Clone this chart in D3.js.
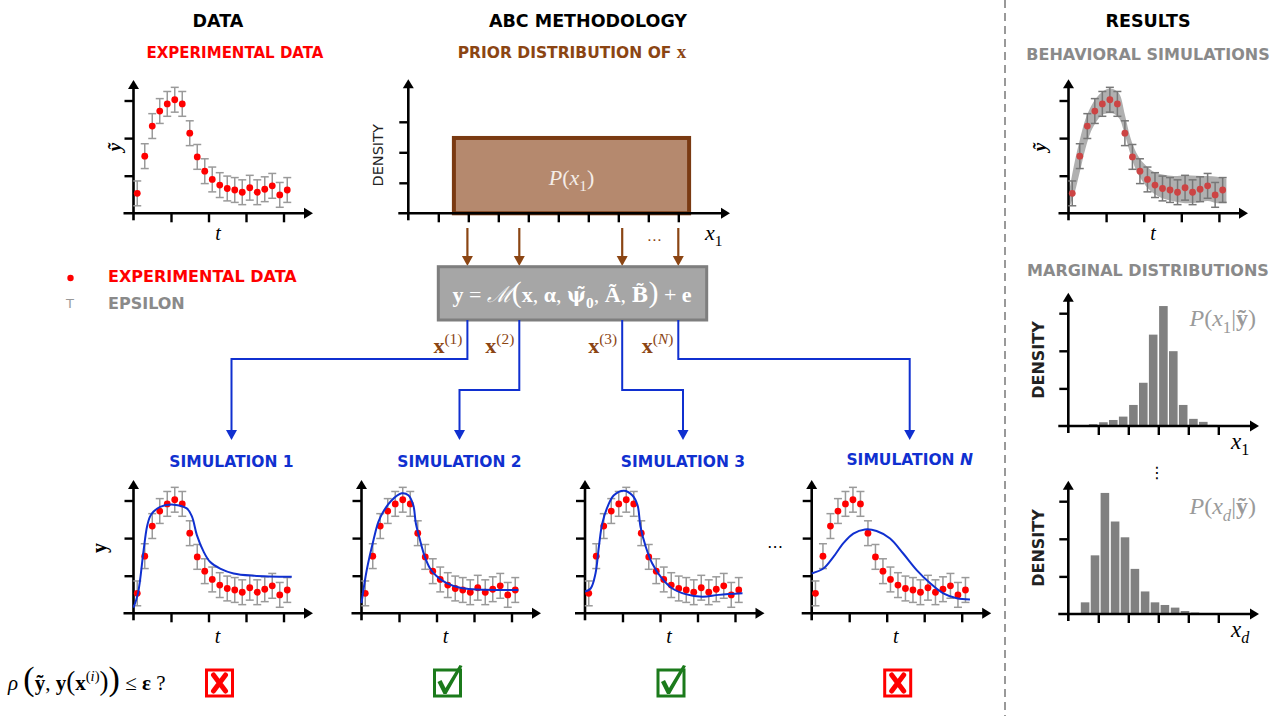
<!DOCTYPE html>
<html><head><meta charset="utf-8">
<script src="https://cdn.jsdelivr.net/npm/d3@7"></script>
<style>html,body{margin:0;padding:0;background:#fff;} svg{display:block}</style>
</head><body>
<svg id="chart" width="1279" height="716"></svg>
<script>
// ---------------- DATA ----------------
const timePoints = [0.1,0.3,0.5,0.7,0.9,1.1,1.3,1.5,1.7,1.9,2.1,2.3,2.5,2.7,2.9,3.1,3.3,3.5,3.7,3.9,4.1];
const experimentalData = [0.53,1.52,2.32,2.72,2.91,3.02,2.91,2.13,1.50,1.12,0.90,0.75,0.66,0.62,0.56,0.68,0.56,0.64,0.73,0.49,0.62];
const epsilon = 0.33;

const sim1Curve = [[0,0.15],[0.12,0.53],[0.27,1.68],[0.36,2.3],[0.44,2.57],[0.53,2.7],[0.71,2.83],[1.07,2.89],[1.42,2.79],[1.56,2.57],[1.69,2.08],[1.87,1.64],[2.04,1.37],[2.31,1.19],[2.67,1.06],[3.2,1.0],[4.22,0.97]];
const sim2Curve = [[0,0.27],[0.14,1.15],[0.32,1.95],[0.45,2.43],[0.58,2.7],[0.8,3.0],[1.07,3.19],[1.25,3.14],[1.38,2.88],[1.45,2.39],[1.56,1.95],[1.69,1.5],[1.83,1.19],[2.0,0.99],[2.27,0.8],[2.63,0.68],[2.98,0.64],[4.18,0.62]];
const sim3Curve = [[0,0.58],[0.15,0.66],[0.28,1.06],[0.37,1.77],[0.46,2.39],[0.6,2.83],[0.77,3.14],[1.04,3.26],[1.26,3.14],[1.4,2.88],[1.48,2.3],[1.62,1.77],[1.79,1.33],[2.02,0.97],[2.33,0.66],[2.68,0.51],[3.13,0.44],[3.57,0.49],[4.2,0.53]];
const simNCurve = [[0,1.06],[0.31,1.19],[0.58,1.5],[0.84,1.86],[1.11,2.12],[1.42,2.23],[1.73,2.19],[2.09,1.99],[2.44,1.59],[2.8,1.15],[3.16,0.8],[3.51,0.53],[3.87,0.4],[4.22,0.37]];
const simTitles = ["SIMULATION 1","SIMULATION 2","SIMULATION 3","SIMULATION "];
const simAccepted = [false,true,true,false];
const sampleLabels = ["1","2","3","N"];

const bandT     = [0.03,0.15,0.3,0.45,0.6,0.75,0.9,1.05,1.2,1.35,1.5,1.65,1.8,2.0,2.25,2.5,2.8,3.1,3.4,3.7,3.95,4.2];
const bandUpper = [0.65,1.3,1.95,2.5,2.85,3.08,3.23,3.31,3.3,3.18,2.62,2.0,1.62,1.33,1.11,1.03,0.99,1.01,1.0,0.99,0.97,0.92];
const bandLower = [0.18,0.5,1.1,1.72,2.18,2.45,2.62,2.66,2.65,2.52,2.08,1.56,1.15,0.8,0.54,0.4,0.32,0.27,0.28,0.33,0.27,0.27];

const histBinWidth = 0.333;
const hist1Centers = [0.83,1.17,1.5,1.83,2.17,2.5,2.83,3.17,3.5,3.83,4.17,4.5,4.83];
const hist1Heights = [0.05,0.10,0.16,0.25,0.56,1.15,2.43,3.19,1.99,0.56,0.19,0.11,0.03];
const hist2Centers = [0.56,0.89,1.22,1.56,1.89,2.22,2.56,2.89,3.22,3.56,3.89,4.22];
const hist2Heights = [0.31,1.56,3.22,2.46,2.04,1.20,0.60,0.31,0.24,0.17,0.08,0.04];

const priorRange = [1.52, 9.36];
const priorDensity = 2.47;
const priorSamples = [1.97, 3.70, 7.13, 9.0];

const timeTicks = [1,2,3,4];
const valueTicks = [1,2,3];
const histTicks = [1,2,3,4,5];
const priorXTicks = [1,2,3,4,5,6,7,8,9];
const priorYTicks = [1,2,3];

// ---------------- STYLE ----------------
const SANS = "'DejaVu Sans', sans-serif";
const SERIF = "'Liberation Serif', 'DejaVu Serif', serif";
const DSERIF = "'DejaVu Serif', serif";
const RED = "#ff0000", BLUE = "#1030d0", BROWN = "#8b4513", GRAYTXT = "#8a8a8a";

const svg = d3.select("#chart");

function linScales(ox, oy, ux, uy, lenX, lenY) {
  return {
    x: d3.scaleLinear().domain([0, lenX/ux]).range([ox, ox+lenX]),
    y: d3.scaleLinear().domain([0, lenY/uy]).range([oy, oy-lenY])
  };
}

function drawAxes(g, s, xt, yt) {
  const [x0,x1] = s.x.range(), [y0,y1] = s.y.range();
  const ax = g.append("g").attr("transform",`translate(0,${y0})`)
    .call(d3.axisBottom(s.x).tickValues(xt).tickSize(9).tickFormat(""));
  ax.select(".domain").remove();
  ax.selectAll("line").attr("stroke","#000").attr("stroke-width",2.4);
  const ay = g.append("g").attr("transform",`translate(${x0},0)`)
    .call(d3.axisLeft(s.y).tickValues(yt).tickSize(9).tickFormat(""));
  ay.select(".domain").remove();
  ay.selectAll("line").attr("stroke","#000").attr("stroke-width",2.4);
  g.append("line").attr("x1",x0-10).attr("x2",x1-6).attr("y1",y0).attr("y2",y0).attr("stroke","#000").attr("stroke-width",2.6);
  g.append("line").attr("x1",x0).attr("x2",x0).attr("y1",y0+7).attr("y2",y1+6).attr("stroke","#000").attr("stroke-width",2.6);
  g.append("path").attr("d",`M${x1},${y0}L${x1-9},${y0-5.5}L${x1-9},${y0+5.5}Z`).attr("fill","#000");
  g.append("path").attr("d",`M${x0},${y1}L${x0-5.5},${y1+9}L${x0+5.5},${y1+9}Z`).attr("fill","#000");
}

function drawData(g, s, dotColor, barColor) {
  const eb = g.append("g").attr("stroke",barColor).attr("stroke-width",1.5).attr("fill","none");
  timePoints.forEach((t,i) => {
    const v = experimentalData[i], X = s.x(t), a = s.y(v-epsilon), b = s.y(v+epsilon);
    eb.append("line").attr("x1",X).attr("x2",X).attr("y1",a).attr("y2",b);
    eb.append("line").attr("x1",X-4).attr("x2",X+4).attr("y1",a).attr("y2",a);
    eb.append("line").attr("x1",X-4).attr("x2",X+4).attr("y1",b).attr("y2",b);
  });
  g.append("g").selectAll("circle").data(timePoints).join("circle")
    .attr("cx",t=>s.x(t)).attr("cy",(t,i)=>s.y(experimentalData[i])).attr("r",3.4).attr("fill",dotColor);
}

function mathText(g, x, y, parts, o) {
  const size = o.size || 18;
  const t = g.append("text").attr("x",x).attr("y",y).attr("font-family",SERIF)
    .attr("font-size",size).attr("fill",o.color||"#000").attr("text-anchor",o.anchor||"start");
  if (o.rotate) t.attr("transform",`rotate(${o.rotate},${x},${y})`);
  let cur = 0;
  parts.forEach(p => {
    const ts = t.append("tspan").text(p.s);
    let shift = 0;
    if (p.sub) shift = size*0.28;
    if (p.sup) shift = -size*0.42;
    ts.attr("dy", shift-cur); cur = shift;
    if (p.sub || p.sup) ts.attr("font-size", size*0.7);
    if (p.fs) ts.attr("font-size", p.fs);
    if (p.i) ts.attr("font-style","italic");
    if (p.b) ts.attr("font-weight","bold");
    if (p.f) ts.attr("font-family", p.f);
  });
  return t;
}

function sansText(x, y, txt, size, color, weight, anchor) {
  return svg.append("text").attr("x",x).attr("y",y).attr("font-family",SANS).attr("font-size",size)
    .attr("font-weight",weight||"bold").attr("fill",color).attr("text-anchor",anchor||"middle").text(txt);
}

// ---------------- TITLES ----------------
sansText(218, 27, "DATA", 17.5, "#000");
sansText(588, 27, "ABC METHODOLOGY", 17.5, "#000");
sansText(1148, 27, "RESULTS", 17.5, "#000");
sansText(235, 58, "EXPERIMENTAL DATA", 15, RED);
{
  const t = sansText(572, 58, "PRIOR DISTRIBUTION OF ", 15.5, BROWN);
  t.append("tspan").attr("font-family",SERIF).attr("font-size",19).text("x");
}
sansText(1148, 60, "BEHAVIORAL SIMULATIONS", 16, GRAYTXT);
sansText(1148, 276, "MARGINAL DISTRIBUTIONS", 16, GRAYTXT);

// separator
svg.append("line").attr("x1",1005).attr("x2",1005).attr("y1",0).attr("y2",716)
  .attr("stroke","#999").attr("stroke-width",2).attr("stroke-dasharray","8,5");

// ---------------- DATA PANEL ----------------
{
  const g = svg.append("g");
  const s = linScales(133.5, 213.3, 37.5, 37.6, 179.5, 133.3);
  drawAxes(g, s, timeTicks, valueTicks);
  drawData(g, s, RED, "#9a9a9a");
  mathText(g, 218, 240, [{s:"t", i:true}], {size:20, anchor:"middle"});
  mathText(g, 121, 147, [{s:"ỹ", i:true, b:true}], {size:19, anchor:"middle", rotate:-90});
}

// legend
svg.append("circle").attr("cx",70.5).attr("cy",278).attr("r",3.2).attr("fill",RED);
sansText(108, 282, "EXPERIMENTAL DATA", 16, RED, "bold", "start");
sansText(70, 308, "T", 13, "#999", "normal", "middle");
sansText(108, 309, "EPSILON", 16, GRAYTXT, "bold", "start");

// ---------------- PRIOR PANEL ----------------
const prior = linScales(408.3, 213.3, 30, 30.5, 321.7, 134);
{
  const g = svg.append("g");
  g.append("rect").attr("x",prior.x(priorRange[0])).attr("y",prior.y(priorDensity))
    .attr("width",prior.x(priorRange[1])-prior.x(priorRange[0])).attr("height",prior.y(0)-prior.y(priorDensity))
    .attr("fill","#b5896e").attr("stroke","#7a3a12").attr("stroke-width",4);
  drawAxes(g, prior, priorXTicks, priorYTicks);
  const cx = (prior.x(priorRange[0])+prior.x(priorRange[1]))/2;
  mathText(g, cx, 185, [{s:"P",i:true},{s:"("},{s:"x",i:true},{s:"1",sub:true},{s:")"}], {size:22, anchor:"middle", color:"#f4ede8"});
  mathText(g, 705, 240, [{s:"x",i:true},{s:"1",sub:true}], {size:22});
  g.append("text").attr("transform",`translate(383,${prior.y(1.9)}) rotate(-90)`).attr("text-anchor","middle")
    .attr("font-family",SANS).attr("font-size",14.5).attr("fill","#222").text("DENSITY");
  priorSamples.forEach(v => {
    const X = prior.x(v);
    g.append("line").attr("x1",X).attr("x2",X).attr("y1",228).attr("y2",258).attr("stroke",BROWN).attr("stroke-width",2.2);
    g.append("path").attr("d",`M${X},${266}L${X-5.5},${256}L${X+5.5},${256}Z`).attr("fill",BROWN);
  });
  g.append("text").attr("x",(prior.x(priorSamples[2])+prior.x(priorSamples[3]))/2+4).attr("y",245)
    .attr("text-anchor","middle").attr("font-family",SANS).attr("font-size",15).attr("fill",BROWN).text("⋯");
}

// ---------------- MODEL BOX ----------------
{
  const g = svg.append("g");
  g.append("rect").attr("x",438.3).attr("y",266.7).attr("width",268.4).attr("height",53.3)
    .attr("fill","#a6a6a6").attr("stroke","#7e7e7e").attr("stroke-width",3);
  mathText(g, 572, 302, [
    {s:"y", b:true},{s:" = "},{s:"ℳ", i:true},{s:"(", fs:30},{s:"x", b:true},{s:", "},{s:"α", b:true},{s:", "},
    {s:"ψ\u0303", b:true, f:DSERIF, fs:20},{s:"0", sub:true, b:true},{s:", "},{s:"Ã", b:true},{s:", "},
    {s:"B\u0303", b:true, f:DSERIF, fs:20},{s:")", fs:30},{s:" + "},{s:"e", b:true}
  ], {size:22, anchor:"middle", color:"#fff"});
}

// ---------------- SIMULATION PANELS ----------------
const simOrigins = [133.5, 361.5, 585, 811.7];
const simCurves = [sim1Curve, sim2Curve, sim3Curve, simNCurve];
const connectorLevels = [359, 390, 390, 359];
simOrigins.forEach((ox, i) => {
  const g = svg.append("g");
  const s = linScales(ox, 613.3, 37.5, 37.6, 179.5, 133.3);
  drawAxes(g, s, timeTicks, valueTicks);
  drawData(g, s, RED, "#9a9a9a");
  g.append("path").datum(simCurves[i]).attr("fill","none").attr("stroke",BLUE).attr("stroke-width",2)
    .attr("d", d3.line().x(d=>s.x(d[0])).y(d=>s.y(d[1])).curve(d3.curveCatmullRom.alpha(0.5)));
  mathText(g, ox+84, 643, [{s:"t", i:true}], {size:20, anchor:"middle"});
  const cx = ox + 98;
  const tt = g.append("text").attr("x",cx).attr("y",i===3?465:467).attr("text-anchor","middle")
    .attr("font-family",SANS).attr("font-size",15.5).attr("font-weight","bold").attr("fill",BLUE).text(simTitles[i]);
  if (i===3) tt.append("tspan").attr("font-style","italic").text("N");
  const sx = prior.x(priorSamples[i]), lvl = connectorLevels[i];
  g.append("path").attr("d",`M${sx},320V${lvl}H${cx}V${431}`).attr("fill","none").attr("stroke",BLUE).attr("stroke-width",2);
  g.append("path").attr("d",`M${cx},440L${cx-5.5},${430}L${cx+5.5},${430}Z`).attr("fill",BLUE);
  const parts = [{s:"x", b:true},{s:"(", sup:true},{s:sampleLabels[i], sup:true, i: sampleLabels[i]==="N"},{s:")", sup:true}];
  mathText(g, sx-5, 353, parts, {size:22, anchor:"end", color:BROWN});
  const bx = ox + 86, by = 683;
  g.append("rect").attr("x",bx-13).attr("y",by-13).attr("width",26).attr("height",26)
    .attr("fill","#fff").attr("stroke",simAccepted[i]?"#1b7a1b":RED).attr("stroke-width",3);
  if (simAccepted[i]) {
    g.append("path").attr("d",`M${bx-10},${by-1}L${bx-6},${by-3}L${bx-2},${by+5}L${bx+12},${by-18}L${bx+15},${by-17}L${bx-1},${by+11}L${bx-4},${by+11}Z`)
      .attr("fill","#1b7a1b");
  } else {
    g.append("path").attr("d",`M${bx-6},${by-8}L${bx+6},${by+8}M${bx+6},${by-8}L${bx-6},${by+8}`)
      .attr("stroke",RED).attr("stroke-width",5).attr("stroke-linecap","round");
  }
  if (i===0) mathText(g, 106, 548, [{s:"y", b:true}], {size:20, anchor:"middle", rotate:-90});
});
svg.append("text").attr("x",775).attr("y",552).attr("text-anchor","middle").attr("font-family",SANS)
  .attr("font-size",16).attr("fill","#000").text("⋯");

// acceptance criterion
mathText(svg, 8, 690, [
  {s:"ρ", i:true},{s:" "},{s:"(", fs:34},{s:"ỹ", b:true},{s:", "},{s:"y", b:true},{s:"(", fs:27},{s:"x", b:true},
  {s:"(", sup:true},{s:"i", sup:true, i:true},{s:")", sup:true},{s:")", fs:27},{s:")", fs:34},{s:" ≤ "},{s:"ε", b:true},{s:" ?"}
], {size:21});

// ---------------- RESULTS: BEHAVIORAL ----------------
{
  const g = svg.append("g");
  const s = linScales(1068.5, 213.3, 37.6, 37.6, 179.5, 134);
  const area = d3.area().x((d,i)=>s.x(bandT[i])).y0((d,i)=>s.y(bandLower[i])).y1((d,i)=>s.y(bandUpper[i]))
    .curve(d3.curveCatmullRom.alpha(0.5));
  g.append("path").datum(bandT).attr("d",area).attr("fill","#b0b0b0");
  drawAxes(g, s, timeTicks, valueTicks);
  drawData(g, s, "#cc4444", "#777");
  mathText(g, 1153, 240, [{s:"t", i:true}], {size:20, anchor:"middle"});
  mathText(g, 1046, 147, [{s:"ỹ", i:true, b:true}], {size:19, anchor:"middle", rotate:-90});
}

// ---------------- RESULTS: MARGINALS ----------------
function drawHist(oy, centers, heights, xlab) {
  const g = svg.append("g");
  const s = linScales(1068.3, oy, 30, 37.6, 190.7, 133.3);
  const w = s.x(histBinWidth) - s.x(0) - 1.4;
  g.append("g").selectAll("rect").data(centers).join("rect")
    .attr("x",c=>s.x(c)-w/2).attr("width",w)
    .attr("y",(c,i)=>s.y(heights[i])).attr("height",(c,i)=>s.y(0)-s.y(heights[i])).attr("fill","#808080");
  drawAxes(g, s, histTicks, valueTicks);
  g.append("text").attr("transform",`translate(1044,${oy-66}) rotate(-90)`).attr("text-anchor","middle")
    .attr("font-family",SANS).attr("font-size",16).attr("font-weight","bold").attr("fill","#222").text("DENSITY");
  mathText(g, 1231, oy+23, [{s:"x", i:true},{s:xlab, sub:true, i: xlab==="d"}], {size:23});
  mathText(g, 1256, oy-100, [{s:"P", i:true},{s:"("},{s:"x",i:true},{s:xlab, sub:true, i: xlab==="d"},{s:"|"},{s:"ỹ", b:true},{s:")"}],
    {size:24, anchor:"end", color:"#9a9a9a"});
}
drawHist(426, hist1Centers, hist1Heights, "1");
drawHist(614, hist2Centers, hist2Heights, "d");
svg.append("text").attr("x",1157).attr("y",478).attr("text-anchor","middle").attr("font-family",SANS)
  .attr("font-size",16).attr("fill","#000").text("⋮");
</script>
</body></html>
